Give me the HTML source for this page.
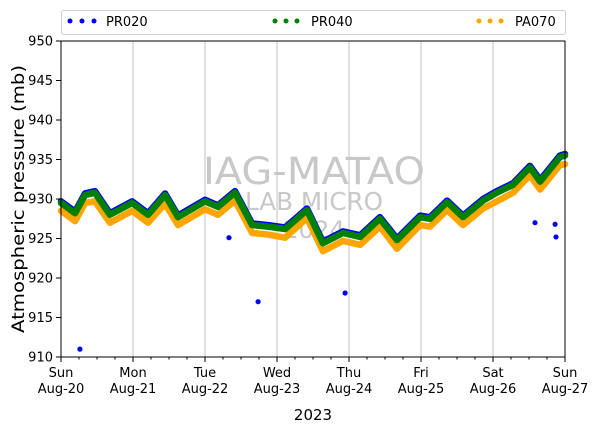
<!DOCTYPE html>
<html><head><meta charset="utf-8"><style>
html,body{margin:0;padding:0;background:#fff;}
svg text{font-family:"DejaVu Sans","Liberation Sans",sans-serif;}
</style></head><body>
<svg id="chart" width="600" height="434" xmlns="http://www.w3.org/2000/svg">
<g id="grid"></g>
<g id="watermark" fill="#c8c8c8" text-anchor="middle">
<text x="314" y="184" font-size="37" textLength="222" lengthAdjust="spacingAndGlyphs">IAG-MATAO</text>
<text x="314" y="210" font-size="25" textLength="138" lengthAdjust="spacingAndGlyphs">LAB MICRO</text>
<text x="314" y="238" font-size="24" textLength="62" lengthAdjust="spacingAndGlyphs">2024</text>
</g>
<g id="series"></g>
<rect x="61" y="41" width="504" height="316" fill="none" stroke="#000" stroke-width="1"/>
<g id="yaxis"></g>
<g id="xaxis"></g>
<text x="24" y="199" font-size="17" text-anchor="middle" textLength="268" lengthAdjust="spacingAndGlyphs" transform="rotate(-90 24 199)">Atmospheric pressure (mb)</text>
<text x="313" y="420" font-size="15" text-anchor="middle">2023</text>
<g>
<rect x="61.5" y="10.5" width="504" height="24" rx="2" fill="#fff" stroke="#d0d0d0"/>
<g><circle cx="70" cy="21" r="2.5" fill="#0000ff"/><circle cx="82" cy="21" r="2.5" fill="#0000ff"/><circle cx="94" cy="21" r="2.5" fill="#0000ff"/><text x="106" y="26" font-size="13">PR020</text></g>
<g><circle cx="275" cy="21" r="2.5" fill="#008000"/><circle cx="286" cy="21" r="2.5" fill="#008000"/><circle cx="297" cy="21" r="2.5" fill="#008000"/><text x="311" y="26" font-size="13">PR040</text></g>
<g><circle cx="479" cy="21" r="2.5" fill="#ffa500"/><circle cx="490" cy="21" r="2.5" fill="#ffa500"/><circle cx="501" cy="21" r="2.5" fill="#ffa500"/><text x="515" y="26" font-size="13">PA070</text></g>
</g>
</svg>
<script>
const hours = [0,4.7,8,11.3,16.3,23.7,29,34.7,39,48,52.3,58,63.7,69,74.7,82,87.3,94,99.7,106.3,112,119.7,123,128.7,134,140.7,145.3,150.7,156.3,159.7,166.3,168];
const pr040 = [929.5,928.2,930.5,930.8,928,929.5,928,930.5,927.7,929.7,929,930.8,926.7,926.5,926.2,928.6,924.4,925.7,925.2,927.5,924.8,927.7,927.5,929.6,927.7,929.8,930.8,931.8,934,932.2,935.3,935.5];
const pr020 = [929.7,928.4,930.7,931.0,928.2,929.7,928.2,930.7,927.9,929.9,929.2,931.0,926.9,926.7,926.4,928.8,924.6,925.9,925.4,927.7,925.0,927.9,927.7,929.8,927.9,930.0,931.0,932.0,934.2,932.4,935.5,935.7];
const pa070 = [928.5,927.2,929.5,929.7,927,928.5,927,929.4,926.7,928.7,928,929.8,925.7,925.5,925.1,927.6,923.4,924.7,924.2,926.5,923.7,926.7,926.5,928.6,926.7,928.8,929.7,930.8,933,931.2,934.3,934.4];
const outHours = [6.3,56,65.7,94.7,158,164.7,165];
const outValues = [911.0,925.1,917.0,918.1,927.0,926.8,925.2];
const yTicks = [910,915,920,925,930,935,940,945,950];
const dayLabels = ["Sun","Mon","Tue","Wed","Thu","Fri","Sat","Sun"];
const dateLabels = ["Aug-20","Aug-21","Aug-22","Aug-23","Aug-24","Aug-25","Aug-26","Aug-27"];

const NS="http://www.w3.org/2000/svg";
const X0=61,X1=565,Y0=357,Y1=41;
function xs(h){return X0+(X1-X0)*h/168;}
function ys(v){return Y0+(Y1-Y0)*(v-910)/40;}
function mk(tag,attrs,parent){const e=document.createElementNS(NS,tag);for(const k in attrs)e.setAttribute(k,attrs[k]);parent.appendChild(e);return e;}
const grid=document.getElementById('grid'),ser=document.getElementById('series'),ya=document.getElementById('yaxis'),xa=document.getElementById('xaxis');

dayLabels.forEach((d,i)=>{
  const x=xs(i*24);
  if(i>0&&i<7){const g=mk('line',{x1:x,x2:x,y1:Y1,y2:Y0,stroke:'#c0c0c0','stroke-width':1},grid);
  
  }
  const t=mk('line',{x1:x,x2:x,y1:Y0,y2:Y0+5,stroke:'#000'},xa);
  
  
  const l=mk('text',{x:x,y:Y0+20,'font-size':13,'text-anchor':'middle'},xa);
  
  
  mk('tspan',{x:x},l).textContent=d;
  mk('tspan',{x:x,dy:16},l).textContent=dateLabels[i];
  if(i<7){for(let m=1;m<4;m++){const mx=xs(i*24+m*6);const mt=mk('line',{x1:mx,x2:mx,y1:Y0,y2:Y0+2.5,stroke:'#000'},xa);
  
  }}
});
yTicks.forEach(v=>{
  const y=ys(v);
  const t=mk('line',{x1:X0-5,x2:X0,y1:y,y2:y,stroke:'#000'},ya);
  
  
  const l=mk('text',{x:X0-8,y:y+4.5,'font-size':13,'text-anchor':'end'},ya);
  
  
  l.textContent=v;
});
function drawSeries(vals,color,name,w){
  const pts=hours.map((h,i)=>xs(h)+','+ys(vals[i])).join(' ');
  const p=mk('polyline',{points:pts,fill:'none',stroke:color,'stroke-width':w,'stroke-linejoin':'round','stroke-linecap':'round'},ser);
  
  
}
drawSeries(pa070,'#ffa500','series-pa070',6.5);
drawSeries(pr020,'#0000ff','series-pr020',6.5);
drawSeries(pr040,'#008000','series-pr040',6.5);
outHours.forEach((h,i)=>{
  const c=mk('circle',{cx:xs(h),cy:ys(outValues[i]),r:2.6,fill:'#0000ff'},ser);
  
  
});
</script>
</body></html>
